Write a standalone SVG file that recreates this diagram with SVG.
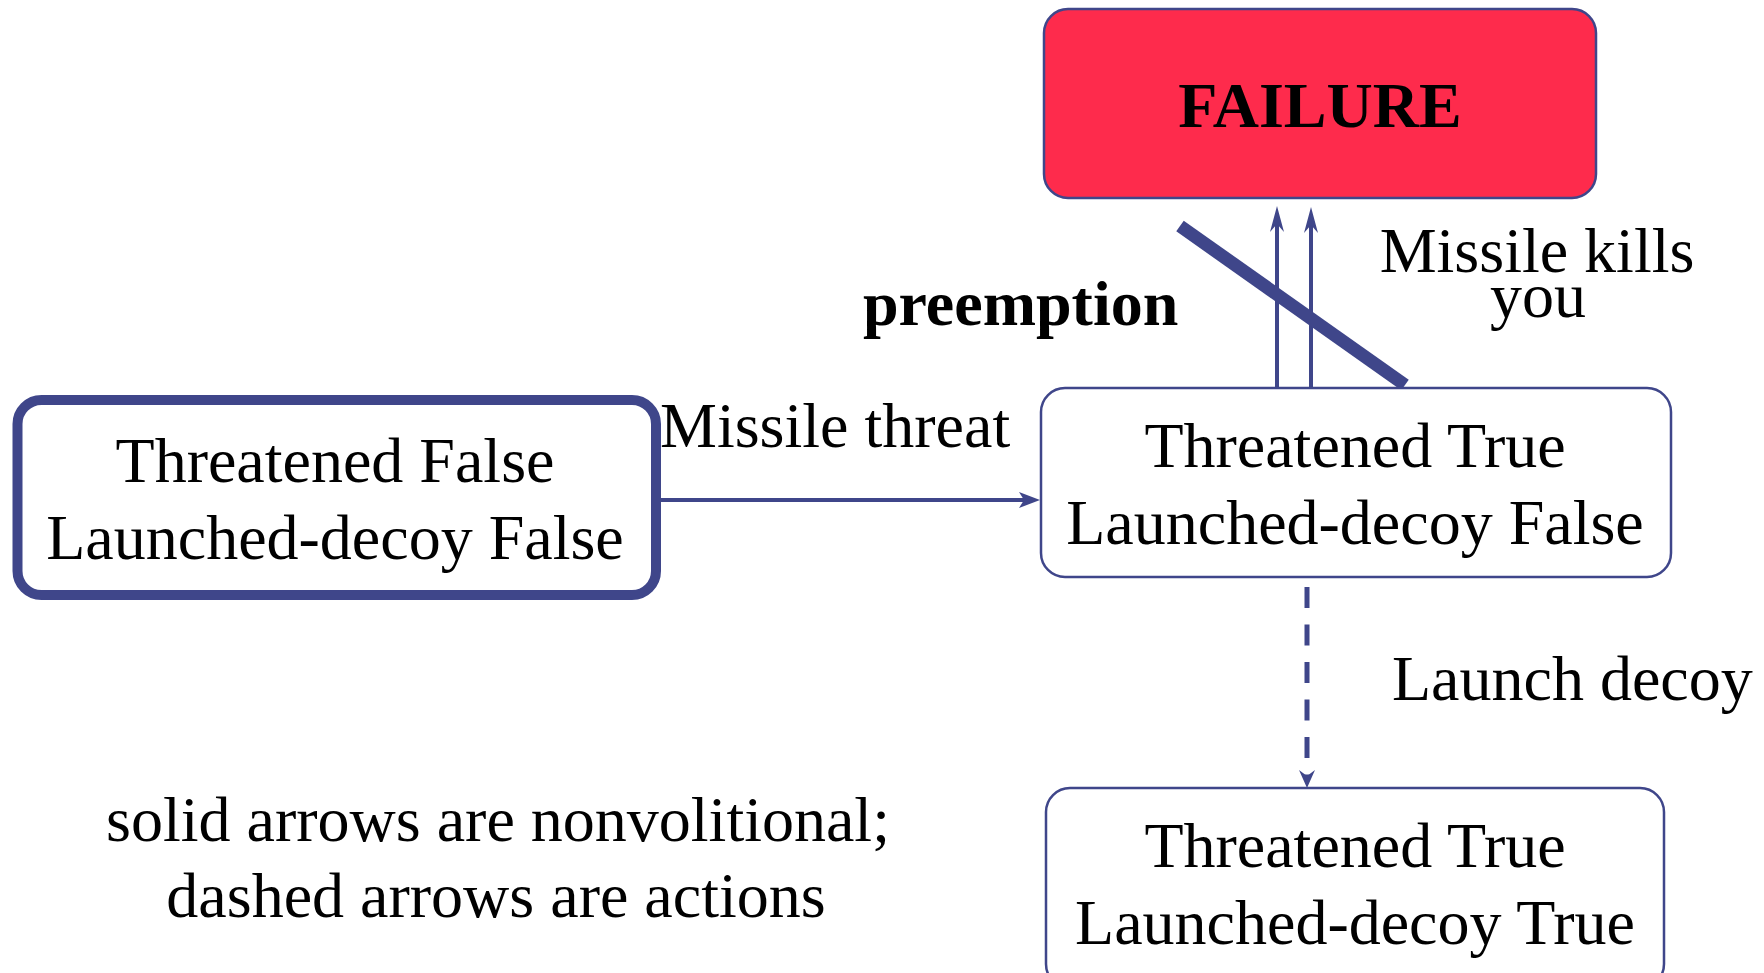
<svg xmlns="http://www.w3.org/2000/svg" width="1764" height="973" viewBox="0 0 1764 973">
  <defs>
    <style>
      .lbl { font-family: "Liberation Serif", "Times New Roman", serif; font-size: 64px; fill: #000; }
      .bold { font-weight: bold; }
      .mid { text-anchor: middle; }
      .box { fill: #fff; stroke: #3f468a; stroke-width: 2.5; }
      .edge { fill: none; stroke: #3f468a; stroke-width: 4; }
      .dash { stroke-width: 5; stroke-dasharray: 21 16.5; }
    </style>
    <marker id="head" viewBox="0 0 26 14" refX="8" refY="7" markerWidth="26" markerHeight="14" markerUnits="userSpaceOnUse" orient="auto">
      <path d="M26,7 L0,0 L8,7 L0,14 Z" fill="#3f468a"/>
    </marker>
    <marker id="headSide" viewBox="0 0 21 16" refX="5" refY="8" markerWidth="21" markerHeight="16" markerUnits="userSpaceOnUse" orient="auto">
      <path d="M21,8 L0,0 L5,8 L0,16 Z" fill="#3f468a"/>
    </marker>
    <marker id="headDown" viewBox="0 0 18 16" refX="6" refY="8" markerWidth="18" markerHeight="16" markerUnits="userSpaceOnUse" orient="auto">
      <path d="M18,8 L0,0 L6,8 L0,16 Z" fill="#3f468a"/>
    </marker>
  </defs>

  <rect width="1764" height="973" fill="#fff"/>

  <!-- connectors -->
  <g id="connectors">
    <!-- Missile threat -->
    <line class="edge" x1="661" y1="500" x2="1024" y2="500" marker-end="url(#headSide)"/>
    <!-- Missile kills you (two parallel transitions) -->
    <line class="edge" x1="1277" y1="388" x2="1277" y2="224" marker-end="url(#head)"/>
    <line class="edge" x1="1311" y1="388" x2="1311" y2="225" marker-end="url(#head)"/>
    <!-- Launch decoy (action) -->
    <line class="edge dash" x1="1307" y1="587" x2="1307" y2="776" marker-end="url(#headDown)"/>
    <!-- preemption strike-through -->
    <line x1="1180" y1="226" x2="1405" y2="385" stroke="#3f468a" stroke-width="13"/>
  </g>

  <!-- edge labels -->
  <g id="labels">
    <text class="lbl" x="660" y="447">Missile threat</text>
    <text class="lbl bold" x="863" y="325">preemption</text>
    <text class="lbl mid" x="1537" y="272">Missile kills</text>
    <text class="lbl mid" x="1538" y="317">you</text>
    <text class="lbl" x="1392" y="700">Launch decoy</text>
  </g>

  <g id="failure">
    <rect x="1044" y="9" width="552" height="189" rx="24" fill="#fe2b4c" stroke="#3f468a" stroke-width="2.5"/>
    <text class="lbl bold mid" x="1320" y="127">FAILURE</text>
  </g>

  <g id="start">
    <rect x="17.5" y="400" width="638.5" height="195" rx="24" fill="#fff" stroke="#3f468a" stroke-width="10"/>
    <text class="lbl mid" x="335" y="482">Threatened False</text>
    <text class="lbl mid" x="335" y="559">Launched-decoy False</text>
  </g>

  <g id="threatened">
    <rect class="box" x="1041" y="388" width="630" height="189" rx="24"/>
    <text class="lbl mid" x="1355" y="467">Threatened True</text>
    <text class="lbl mid" x="1355" y="544">Launched-decoy False</text>
  </g>

  <g id="decoyed">
    <rect class="box" x="1046" y="788" width="618" height="200" rx="24"/>
    <text class="lbl mid" x="1355" y="867">Threatened True</text>
    <text class="lbl mid" x="1355" y="944">Launched-decoy True</text>
  </g>

  <g id="legend">
    <text class="lbl mid" x="498" y="841">solid arrows are nonvolitional;</text>
    <text class="lbl mid" x="496" y="917">dashed arrows are actions</text>
  </g>
</svg>
